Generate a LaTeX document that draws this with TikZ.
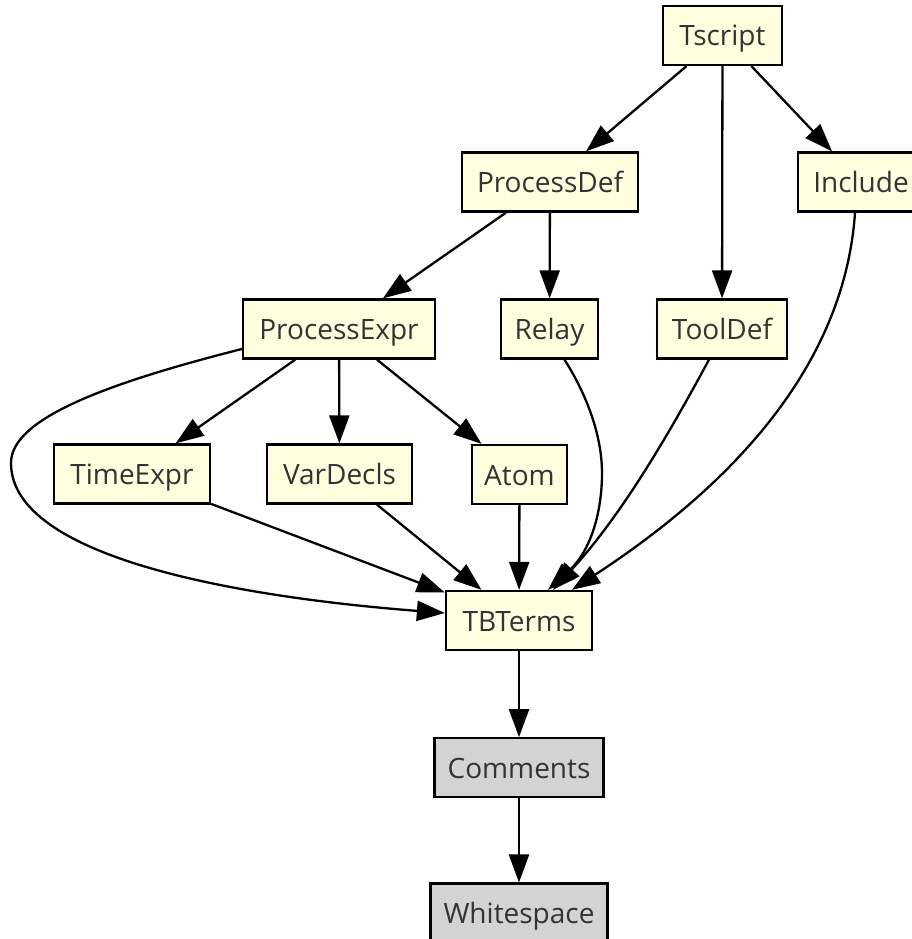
\documentclass[tikz,border=0pt]{standalone}
\usepackage{fontspec}
\setmainfont{Open Sans}
\usetikzlibrary{arrows.meta,positioning}
\definecolor{sortyellow}{HTML}{FFFFE0}
\definecolor{lexgrey}{HTML}{D3D3D3}
\definecolor{labelgrey}{HTML}{333333}
\tikzset{
    sort/.style = {rectangle, draw, fill=sortyellow, text=labelgrey, minimum height=59pt,
                   inner sep=0pt, text height=21pt, text depth=0pt, font=\fontsize{28}{32}\selectfont},
    lexsort/.style = {sort, fill=lexgrey},
    dep/.style = {-{Triangle[length=28pt,width=20pt]}}
}
\begin{document}
\begin{tikzpicture}[x=1pt,y=-1pt,line width=2.3pt]
        \useasboundingbox (0,0) rectangle (912,939);
        \clip (0,0) rectangle (912,939);
        % Context-free sorts
        \node[sort,minimum width=119pt] (tscript) at (722.5,35.5) {Tscript};
        \node[sort,minimum width=176pt] (processdef) at (550,182) {ProcessDef};
        \node[sort,minimum width=126pt] (include) at (861,182) {Include};
        \node[sort,minimum width=192pt] (processexpr) at (339,329) {ProcessExpr};
        \node[sort,minimum width=97pt] (relay) at (549.5,329) {Relay};
        \node[sort,minimum width=130pt] (tooldef) at (722,329) {ToolDef};
        \node[sort,minimum width=156pt] (timeexpr) at (132,474) {TimeExpr};
        \node[sort,minimum width=145pt] (vardecls) at (339.5,474) {VarDecls};
        \node[sort,minimum width=95pt] (atom) at (519.5,474.5) {Atom};
        \node[sort,minimum width=146pt] (tbterms) at (519,620.5) {TBTerms};
        % Lexical sorts
        \node[lexsort,minimum width=169pt] (comments) [below=86pt of tbterms] {Comments};
        \node[lexsort,minimum width=177pt] (whitespace) [below=84pt of comments] {Whitespace};
        % Imports between the modules
        \path[dep] (tscript) edge (processdef);
        \path[dep] (tscript) edge (tooldef);
        \path[dep] (tscript) edge (include);
        \path[dep] (processdef) edge (processexpr);
        \path[dep] (processdef) edge (relay);
        \path[dep] (processexpr) edge (timeexpr);
        \path[dep] (processexpr) edge (vardecls);
        \path[dep] (processexpr) edge (atom);
        \path[dep] (timeexpr) edge (tbterms);
        \path[dep] (vardecls) edge (tbterms);
        \path[dep] (atom) edge (tbterms);
        \draw[dep] ([yshift=-20pt]processexpr.west) .. controls (100,385) and (11,420) .. (11,463)
            .. controls (11,560) and (250,598) .. ([yshift=7.5pt]tbterms.west);
        \draw[dep] ([xshift=15pt]relay.south) .. controls (590,400) and (602,440) .. (602,473)
            .. controls (602,510) and (592,550) .. ([xshift=29pt]tbterms.north);
        \draw[dep] ([xshift=-13pt]tooldef.south) .. controls (670,432) and (622,515) .. ([xshift=34pt]tbterms.north);
        \draw[dep] ([xshift=-6pt]include.south) .. controls (845,360) and (740,480) .. ([xshift=53pt]tbterms.north);
        \path[dep] (tbterms) edge (comments);
        \path[dep] (comments) edge (whitespace);
    \end{tikzpicture}
\end{document}
